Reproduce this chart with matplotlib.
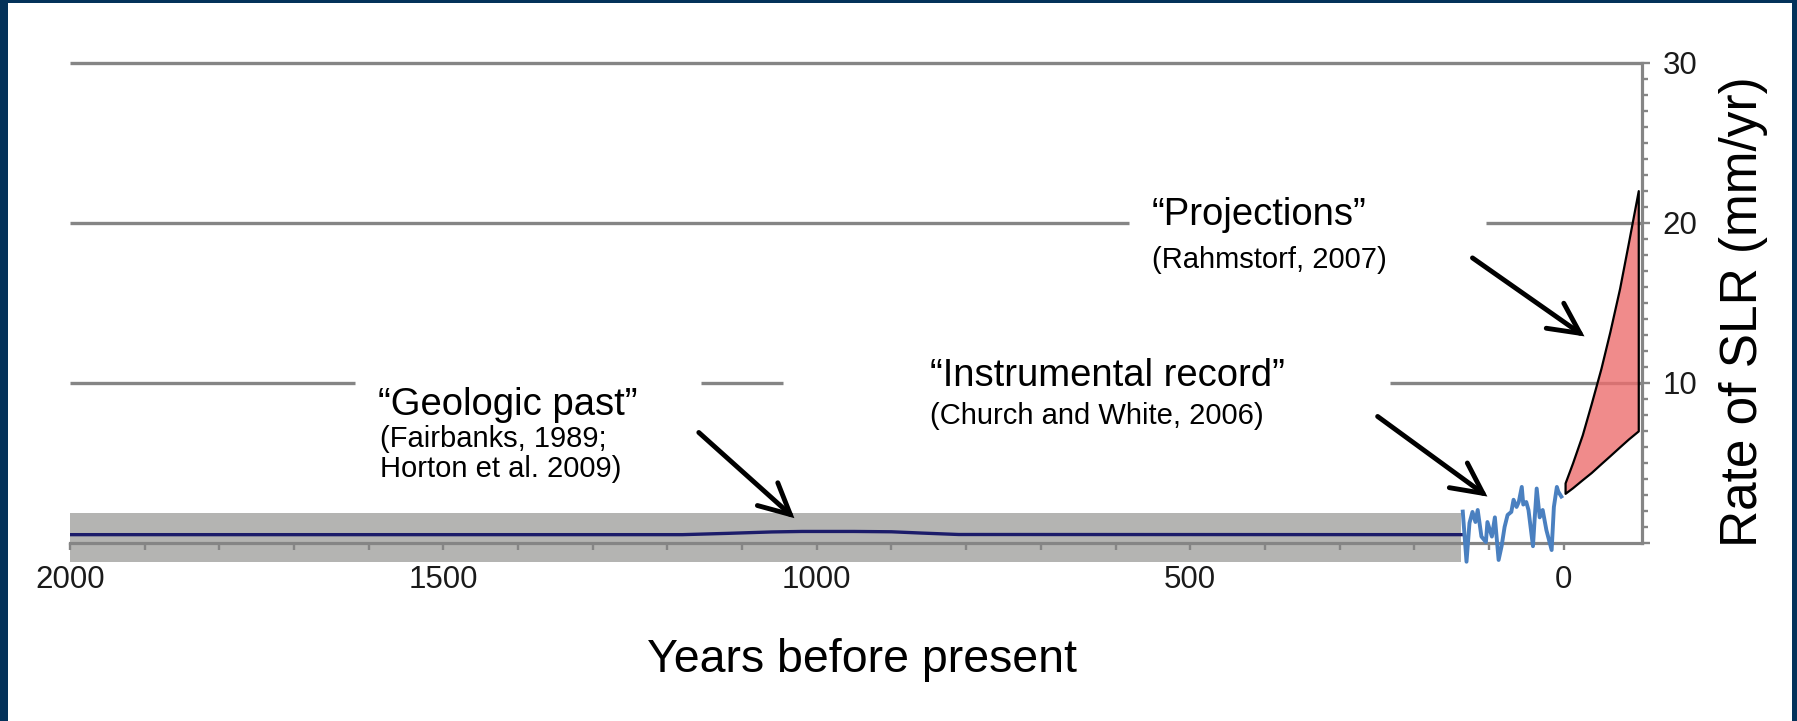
import matplotlib
matplotlib.use("Agg")
import matplotlib.pyplot as plt
from matplotlib.patches import Rectangle
from matplotlib.ticker import FixedLocator, FixedFormatter

plt.rcParams['font.family'] = ['Liberation Sans', 'DejaVu Sans']

# ---------------- data ----------------
# Geologic past (years before present, mm/yr)
geo_years = [2000, 1180, 1120, 1060, 1020, 950, 900, 860, 810, 137]
geo_rate = [0.52, 0.52, 0.6, 0.69, 0.72, 0.72, 0.7, 0.62, 0.53, 0.52]
geo_band_years = [2000, 137]
geo_band_low = [-1.2, -1.2]
geo_band_high = [1.9, 1.9]

# Instrumental record (Church and White, 2006)
inst_years = [135, 130, 126, 122, 118, 115, 110, 104, 102, 96, 92, 87, 83, 79, 75,
              70, 67, 63, 60, 56, 54, 50, 47, 41, 39, 36, 32, 28, 23, 16, 13, 9, 7, 3]
inst_rate = [1.96, -1.17, 1.25, 1.94, 1.31, 2.06, 0.4, 0.06, 1.31, 0.4, 1.6, -1.06,
             -0.2, 1.0, 1.75, 1.94, 2.7, 2.25, 2.56, 3.5, 2.4, 2.56, 2.06, -0.2, 1.31,
             3.4, 1.6, 2.06, 0.8, -0.44, 2.25, 3.5, 3.2, 2.9]

# Projections (Rahmstorf, 2007)
proj_years = [-2, -12, -25, -37, -50, -62, -75, -87, -100]
proj_low = [3.1, 3.45, 3.95, 4.4, 4.95, 5.45, 6.0, 6.5, 7.0]
proj_high = [3.75, 5.0, 6.75, 8.7, 10.9, 13.2, 15.9, 18.8, 22.0]

x_major = [2000, 1500, 1000, 500, 0]
x_minor = list(range(2000, -1, -100))
x_labels = ['2000', '1500', '1000', '500', '0']
y_major = [0, 10, 20, 30]
y_minor = list(range(0, 31))
y_labels = ['', '10', '20', '30']

# ---------------- figure ----------------
W, H = 1797, 721
fig = plt.figure(figsize=(W / 100, H / 100), dpi=100)
fig.patch.set_facecolor('#04325A')
fig.add_artist(Rectangle((8 / W, 0), (1792 - 8) / W, (H - 3) / H,
                         transform=fig.transFigure, facecolor='white',
                         edgecolor='none', zorder=-10))

ax = fig.add_axes([70 / W, 0.2158, (1642 - 70) / W, 0.7086])
ax.set_facecolor('none')
ax.set_xlim(2000, -105)
ax.set_ylim(-1.4, 30.5)

gray = '#858585'
# horizontal gridlines (with gaps behind annotations)
grid_segments = [
    (30, 2000, -105),
    (20, 2000, 582), (20, 104, -105),
    (10, 2000, 1618), (10, 1155, 1045), (10, 232, -105),
]
for yv, x0, x1 in grid_segments:
    ax.hlines(yv, x0, x1, colors=gray, lw=2.4, zorder=0.5)

# geologic band + line
ax.fill_between(geo_band_years, geo_band_low, geo_band_high,
                color='#b4b4b2', lw=0, zorder=1)
ax.plot(geo_years, geo_rate, color='#1c1c6a', lw=2.4, zorder=3)

# instrumental record
ax.plot(inst_years, inst_rate, color='#4a80c0', lw=2.8, zorder=3,
        solid_joinstyle='round')

# projections
ax.fill_between(proj_years, proj_low, proj_high,
                facecolor=(0.93, 0.43, 0.43, 0.8), edgecolor='black',
                lw=1.6, zorder=2)

# spines
for s in ['left', 'top']:
    ax.spines[s].set_visible(False)
ax.spines['bottom'].set_position(('data', 0))
ax.spines['bottom'].set_color(gray)
ax.spines['bottom'].set_linewidth(2.3)
ax.spines['right'].set_color(gray)
ax.spines['right'].set_linewidth(2.3)
ax.spines['right'].set_bounds(0, 30)

ax.xaxis.set_major_locator(FixedLocator(x_major))
ax.xaxis.set_major_formatter(FixedFormatter(x_labels))
ax.xaxis.set_minor_locator(FixedLocator(x_minor))
ax.tick_params(axis='x', which='both', direction='out', length=5, width=1.7,
               color=gray, labelsize=22.5, labelcolor='#1a1a1a', pad=11)

ax.yaxis.tick_right()
ax.yaxis.set_major_locator(FixedLocator(y_major))
ax.yaxis.set_major_formatter(FixedFormatter(y_labels))
ax.yaxis.set_minor_locator(FixedLocator(y_minor))
ax.tick_params(axis='y', which='major', direction='out', length=6, width=1.7,
               color=gray, labelsize=22.5, labelcolor='#1a1a1a', pad=9)
ax.tick_params(axis='y', which='minor', direction='out', length=4, width=1.7,
               color=gray)

ax.set_xlabel('Years before present', fontsize=33.5, va='center')
ax.xaxis.set_label_coords(0.5038, -0.186)
ax.yaxis.set_label_position('right')
ax.set_ylabel('Rate of SLR (mm/yr)', fontsize=37, rotation=90, va='center')
ax.yaxis.set_label_coords(1.0643, 0.496)

# annotations
big = 27.5
small = 21
ax.text(1588, 8.6, '\u201cGeologic past\u201d', fontsize=big, ha='left', va='center')
ax.text(1585, 6.5, '(Fairbanks, 1989;', fontsize=small, ha='left', va='center')
ax.text(1585, 4.65, 'Horton et al. 2009)', fontsize=small, ha='left', va='center')

ax.text(848, 10.45, '\u201cInstrumental record\u201d', fontsize=big, ha='left', va='center')
ax.text(848, 7.9, '(Church and White, 2006)', fontsize=small, ha='left', va='center')

ax.text(551, 20.5, '\u201cProjections\u201d', fontsize=big, ha='left', va='center')
ax.text(551, 17.7, '(Rahmstorf, 2007)', fontsize=small, ha='left', va='center')

arrow_kw = dict(arrowstyle='->,head_length=1.1,head_width=0.55', lw=3.5,
                color='black', shrinkA=0, shrinkB=0, mutation_scale=20,
                joinstyle='miter')
ax.annotate('', xy=(1030, 1.55), xytext=(1158, 6.9), arrowprops=arrow_kw)
ax.annotate('', xy=(102, 2.9), xytext=(249, 7.9), arrowprops=arrow_kw)
ax.annotate('', xy=(-28, 12.9), xytext=(122, 17.8), arrowprops=arrow_kw)

fig.savefig('out.png', dpi=100, facecolor=fig.get_facecolor())
